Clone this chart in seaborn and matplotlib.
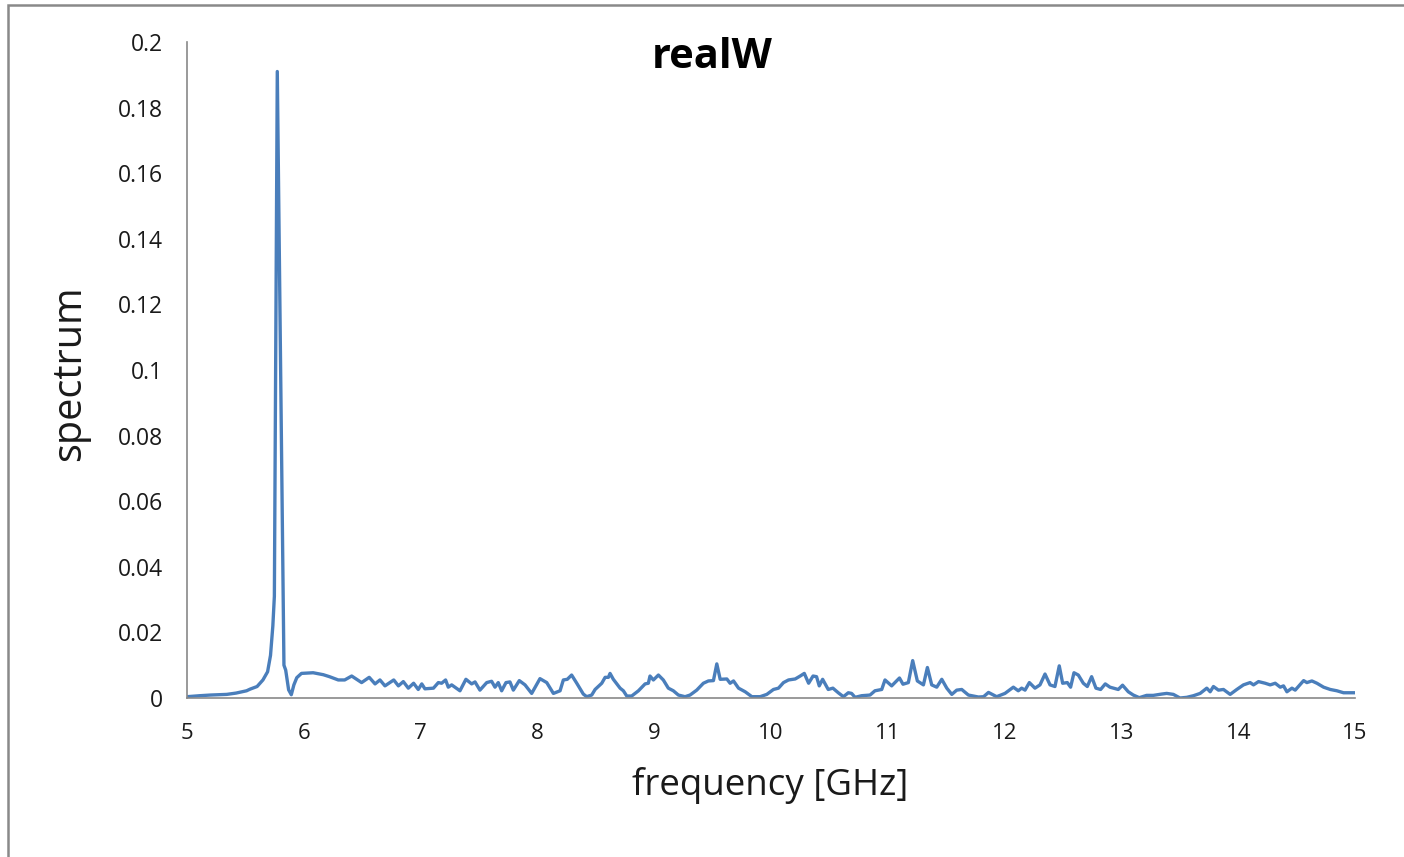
import numpy as np
import pandas as pd
import matplotlib
matplotlib.use("Agg")
import matplotlib.pyplot as plt
import matplotlib.patches as mpatches
import seaborn as sns

freq = [5.0, 5.11, 5.2, 5.34, 5.42, 5.51, 5.54, 5.6, 5.65, 5.69, 5.715, 5.735, 5.748,
        5.773, 5.83, 5.845, 5.87, 5.893, 5.915, 5.94, 5.98, 6.08, 6.167, 6.22, 6.295,
        6.35, 6.41, 6.495, 6.56, 6.61, 6.652, 6.695, 6.77, 6.81, 6.852, 6.895, 6.94,
        6.98, 7.01, 7.037, 7.11, 7.152, 7.18, 7.214, 7.237, 7.266, 7.337, 7.388, 7.437,
        7.466, 7.508, 7.566, 7.608, 7.637, 7.665, 7.694, 7.731, 7.765, 7.794, 7.845,
        7.894, 7.951, 8.022, 8.08, 8.137, 8.194, 8.222, 8.256, 8.293, 8.337, 8.393,
        8.422, 8.465, 8.494, 8.551, 8.58, 8.608, 8.622, 8.65, 8.708, 8.736, 8.765,
        8.807, 8.865, 8.922, 8.95, 8.964, 8.993, 9.036, 9.078, 9.121, 9.164, 9.207,
        9.264, 9.307, 9.364, 9.421, 9.464, 9.507, 9.536, 9.565, 9.622, 9.65, 9.679,
        9.722, 9.779, 9.836, 9.907, 9.964, 10.021, 10.064, 10.107, 10.15, 10.207,
        10.25, 10.285, 10.322, 10.36, 10.39, 10.413, 10.442, 10.49, 10.53, 10.576,
        10.62, 10.662, 10.69, 10.72, 10.776, 10.848, 10.89, 10.948, 10.976, 11.033,
        11.1, 11.13, 11.176, 11.213, 11.253, 11.305, 11.339, 11.376, 11.419, 11.462,
        11.505, 11.548, 11.59, 11.633, 11.69, 11.776, 11.82, 11.862, 11.932, 12.003,
        12.075, 12.117, 12.146, 12.175, 12.212, 12.26, 12.303, 12.346, 12.389, 12.431,
        12.468, 12.497, 12.537, 12.565, 12.594, 12.631, 12.674, 12.708, 12.745, 12.782,
        12.822, 12.862, 12.902, 12.973, 13.01, 13.059, 13.102, 13.153, 13.216, 13.273,
        13.345, 13.388, 13.445, 13.502, 13.559, 13.617, 13.674, 13.731, 13.76, 13.788,
        13.831, 13.874, 13.931, 13.988, 14.045, 14.102, 14.131, 14.174, 14.231, 14.274,
        14.317, 14.36, 14.388, 14.417, 14.46, 14.488, 14.56, 14.588, 14.631, 14.674,
        14.731, 14.788, 14.845, 14.902, 15.0]

spectrum = [0.0004, 0.0007, 0.0009, 0.0011, 0.0015, 0.0022, 0.0027, 0.0035, 0.0055, 0.008,
            0.013, 0.022, 0.031, 0.191, 0.010, 0.0085, 0.0025, 0.001, 0.004, 0.0062, 0.0075,
            0.0077, 0.0071, 0.0065, 0.0055, 0.0055, 0.0067, 0.0047, 0.0063, 0.0043, 0.0055,
            0.0037, 0.0055, 0.0037, 0.005, 0.003, 0.0045, 0.0026, 0.0043, 0.0028, 0.003,
            0.0047, 0.0045, 0.0055, 0.0033, 0.004, 0.0022, 0.0057, 0.0043, 0.0049, 0.0024,
            0.0047, 0.0051, 0.0033, 0.0047, 0.0022, 0.0047, 0.0049, 0.0024, 0.0053, 0.004,
            0.0014, 0.0059, 0.0047, 0.0014, 0.0022, 0.0055, 0.0057, 0.007, 0.0045, 0.0012,
            0.0004, 0.0009, 0.0026, 0.0045, 0.0063, 0.0063, 0.0075, 0.0057, 0.003, 0.0022,
            0.0006, 0.0006, 0.0022, 0.0043, 0.0045, 0.0067, 0.0055, 0.007, 0.0055, 0.003,
            0.0022, 0.0009, 0.0004, 0.0009, 0.0024, 0.0045, 0.0052, 0.0053, 0.0104, 0.0057,
            0.0058, 0.0045, 0.0052, 0.003, 0.0019, 0.0004, 0.0004, 0.0011, 0.0026, 0.003,
            0.0047, 0.0055, 0.0058, 0.0067, 0.0075, 0.0045, 0.0067, 0.0065, 0.0037, 0.0057,
            0.0026, 0.003, 0.0016, 0.0004, 0.0016, 0.0014, 0.0002, 0.0007, 0.0009, 0.0022,
            0.0026, 0.0055, 0.0037, 0.0061, 0.0042, 0.0047, 0.0114, 0.0052, 0.004, 0.0093,
            0.004, 0.0033, 0.0057, 0.003, 0.0011, 0.0024, 0.0026, 0.0009, 0.0003, 0.0004,
            0.0017, 0.0004, 0.0014, 0.0033, 0.0022, 0.003, 0.0024, 0.0047, 0.003, 0.004,
            0.0073, 0.004, 0.0035, 0.0098, 0.0045, 0.0047, 0.0033, 0.0077, 0.007, 0.0045,
            0.0035, 0.0065, 0.003, 0.0026, 0.0043, 0.0033, 0.0026, 0.0039, 0.0019, 0.0009,
            0.0001, 0.0008, 0.0008, 0.0012, 0.0014, 0.0011, 0.0, 0.0002, 0.0007, 0.0014,
            0.003, 0.0019, 0.0035, 0.0024, 0.0026, 0.0011, 0.0026, 0.004, 0.0047, 0.004,
            0.005, 0.0045, 0.004, 0.0045, 0.0033, 0.0037, 0.0019, 0.003, 0.0024, 0.0053,
            0.0047, 0.0052, 0.0045, 0.0033, 0.0026, 0.0022, 0.0016, 0.0016]

x_ticks = [5, 6, 7, 8, 9, 10, 11, 12, 13, 14, 15]
y_ticks = [0, 0.02, 0.04, 0.06, 0.08, 0.1, 0.12, 0.14, 0.16, 0.18, 0.2]
y_tick_labels = ["0", "0.02", "0.04", "0.06", "0.08", "0.1", "0.12", "0.14", "0.16", "0.18", "0.2"]

df = pd.DataFrame({"frequency": freq, "spectrum": spectrum})

sns.set_style("white")
plt.rcParams["font.family"] = ["Open Sans", "DejaVu Sans"]

W, H = 1404, 857
fig = plt.figure(figsize=(W / 100, H / 100), dpi=100)
ax = fig.add_axes([187 / W, 1 - 698 / H, (1355 - 187) / W, (698 - 42) / H])

sns.lineplot(data=df, x="frequency", y="spectrum", ax=ax, color="#4A7EBB",
             linewidth=2.4, sort=False, estimator=None)

ax.set_xlim(5, 15)
ax.set_ylim(0, 0.2)
ax.set_xticks(x_ticks)
ax.set_xticklabels([str(t) for t in x_ticks])
ax.set_yticks(y_ticks)
ax.set_yticklabels(y_tick_labels)

gray = "#898989"
for s in ["top", "right"]:
    ax.spines[s].set_visible(False)
for s in ["left", "bottom"]:
    ax.spines[s].set_color(gray)
    ax.spines[s].set_linewidth(1.2)
ax.tick_params(axis="both", which="major", direction="out", length=6, width=1.2,
               color=gray, labelsize=16, labelcolor="#1a1a1a")
ax.tick_params(axis="y", pad=11.5, labelsize=16.5)
ax.tick_params(axis="x", pad=12)

ax.set_xlabel("frequency [GHz]", fontsize=26.5, color="#1a1a1a")
ax.set_ylabel("spectrum", fontsize=28.5, color="#1a1a1a")
ax.xaxis.set_label_coords(0.4996, (698 - 785) / 656)
ax.xaxis.label.set_va("center")
ax.yaxis.set_label_coords((70 - 187) / 1168, 0.495)
ax.yaxis.label.set_va("center")

fig.text(712 / W, 1 - 58 / H, "realW", ha="center", va="center",
         fontsize=30, fontweight="bold", color="#000000")

border = mpatches.Rectangle((8 / W, -0.1), 1.2, 1 - 5 / H + 0.1, transform=fig.transFigure,
                            fill=False, edgecolor=gray, linewidth=1.8, zorder=10)
fig.patches.append(border)

fig.savefig("out.png", dpi=100)
